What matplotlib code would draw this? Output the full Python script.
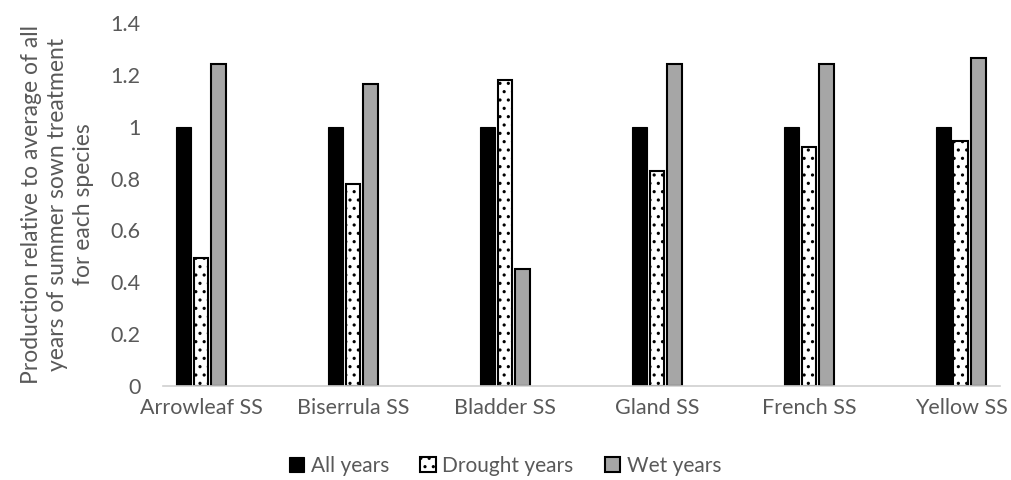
import matplotlib
matplotlib.use("Agg")
import matplotlib.pyplot as plt
import numpy as np

species = ["Arrowleaf SS", "Biserrula SS", "Bladder SS", "Gland SS", "French SS", "Yellow SS"]
all_years = [1.0, 1.0, 1.0, 1.0, 1.0, 1.0]
drought_years = [0.495, 0.78, 1.18, 0.83, 0.92, 0.945]
wet_years = [1.24, 1.165, 0.45, 1.24, 1.24, 1.265]
yticks = [0, 0.2, 0.4, 0.6, 0.8, 1, 1.2, 1.4]
ytick_labels = ["0", "0.2", "0.4", "0.6", "0.8", "1", "1.2", "1.4"]

plt.rcParams["font.family"] = ["Lato", "DejaVu Sans"]
plt.rcParams["hatch.linewidth"] = 1.1
grey_text = "#595959"

fig = plt.figure(figsize=(10.11, 4.8), dpi=100)
ax = fig.add_axes([163 / 1011, 1 - 386 / 480, 837 / 1011, (386 - 23) / 480])

x = np.arange(len(species))
w = 0.098
step = 0.113

ax.bar(x - step, all_years, w, color="black", edgecolor="black", linewidth=0.8, label="All years")
ax.bar(x, drought_years, w, color="white", edgecolor="black", linewidth=1.5,
       hatch="..", label="Drought years")
ax.bar(x + step, wet_years, w, color="#a6a6a6", edgecolor="black", linewidth=1.5,
       label="Wet years")

ax.set_ylim(0, 1.4)
ax.set_xlim(-0.25, 5.257)
ax.set_yticks(yticks)
ax.set_yticklabels(ytick_labels)
ax.set_xticks(x)
ax.set_xticklabels(species)

for side in ["top", "right", "left"]:
    ax.spines[side].set_visible(False)
ax.spines["bottom"].set_color("#d0d0d0")
ax.spines["bottom"].set_linewidth(1.2)
ax.tick_params(axis="both", length=0, colors=grey_text, labelsize=15.5)
ax.tick_params(axis="y", pad=16)
ax.tick_params(axis="x", pad=9)

ax.set_ylabel("Production relative to average of all\nyears of summer sown treatment\nfor each species",
              fontsize=16.5, color=grey_text, linespacing=1.3, labelpad=12)

leg = fig.legend(loc="center", bbox_to_anchor=(505 / 1011, 1 - 466 / 480), ncol=3, frameon=False,
                 fontsize=15, handlelength=0.75, handleheight=0.75, handletextpad=0.3,
                 columnspacing=1.5)
for t in leg.get_texts():
    t.set_color(grey_text)

fig.savefig("out.png", dpi=100)
